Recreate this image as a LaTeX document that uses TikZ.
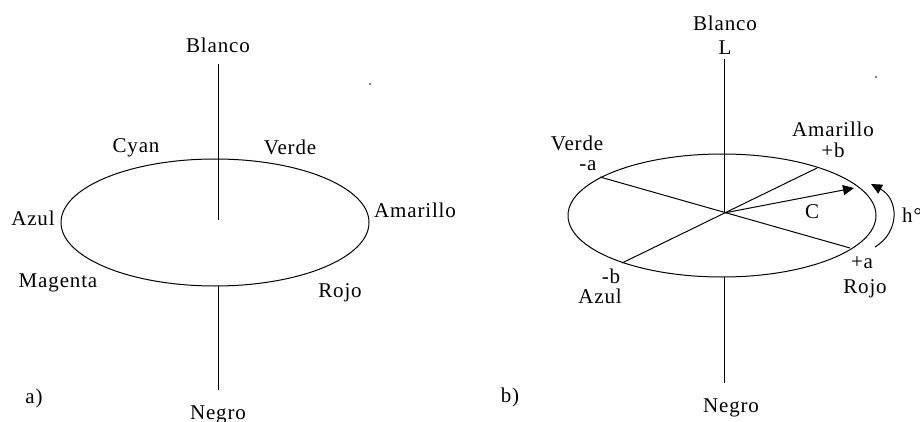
\documentclass[tikz,border=0pt]{standalone}
\usepackage{fontspec}
\setmainfont[LetterSpace=4]{Liberation Serif}
\usetikzlibrary{arrows.meta}
\tikzset{
  lbl/.style={anchor=base,inner sep=0pt,font=\fontsize{21}{24}\selectfont},
  ln/.style={line width=1pt,line cap=butt},
  tri/.style={-{Triangle[length=11pt,width=10pt]}}
}
\begin{document}
\begin{tikzpicture}[x=1pt,y=-1pt]
\useasboundingbox[fill=white] (0,0) rectangle (920,422);
% ---------- a) ----------
\coordinate (aTop) at (218,64);
\coordinate (aMid) at (218,220);
\coordinate (aBot) at (218,286);
\coordinate (aEnd) at (218,390);
\draw[ln] (215,222.5) ellipse [x radius=154, y radius=63.5];
\draw[ln] (aTop) -- (aMid);
\draw[ln] (aBot) -- (aEnd);
\node[lbl] (aBlanco) at (218,53) {Blanco};
\node[lbl] (aCyan) at (136,153) {Cyan};
\node[lbl] (aVerde) at (290,155) {Verde};
\node[lbl] (aAzul) at (33,225) {Azul};
\node[lbl] (aAmarillo) at (415,217) {Amarillo};
\node[lbl] (aMagenta) at (58,287) {Magenta};
\node[lbl] (aRojo) at (340,297) {Rojo};
\node[lbl] (aLab) at (34,403) {a)};
\node[lbl] (aNegro) at (218,419) {Negro};
\fill (370,84) circle (0.8);
% ---------- b) ----------
\coordinate (bTop) at (724,59);
\coordinate (hub) at (724,213);
\coordinate (bBot) at (724,277);
\coordinate (bEnd) at (724,383);
\coordinate (pVerde) at (600,177);
\coordinate (pAzul) at (622,263);
\coordinate (pAmar) at (817,168);
\coordinate (pRojo) at (850,248);
\coordinate (pC) at (854,188);
\coordinate (hS) at (875,247);
\coordinate (hE) at (871,184);
\draw[ln] (722,215.5) ellipse [x radius=154, y radius=61.5];
\draw[ln] (bTop) -- (hub);
\draw[ln] (bBot) -- (bEnd);
\draw[ln] (pVerde) -- (pRojo);
\draw[ln] (pAzul) -- (pAmar);
\draw[ln,tri] (hub) -- (pC);
\draw[ln,tri] (hS) .. controls (900,232) and (899,199) .. (hE);
\node[lbl] (bBlanco) at (725,31) {Blanco};
\node[lbl] (bL) at (725,55) {L};
\node[lbl] (bVerde) at (577,151) {Verde};
\node[lbl] (bma) at (588,171) {-a};
\node[lbl] (bAmarillo) at (833,137) {Amarillo};
\node[lbl] (bpb) at (833,158) {+b};
\node[lbl] (bC) at (812,218) {C};
\node[lbl] (bmb) at (611,283) {-b};
\node[lbl] (bAzul) at (600,303) {Azul};
\node[lbl] (bpa) at (862,268) {+a};
\node[lbl] (bRojo) at (865,293) {Rojo};
\node[lbl] (bLab) at (510,402) {b)};
\node[lbl] (bNegro) at (731,412) {Negro};
\node[lbl,anchor=base west] (bh) at (902,222) {h°};
\fill (876,77) circle (0.8);
\end{tikzpicture}
\end{document}
